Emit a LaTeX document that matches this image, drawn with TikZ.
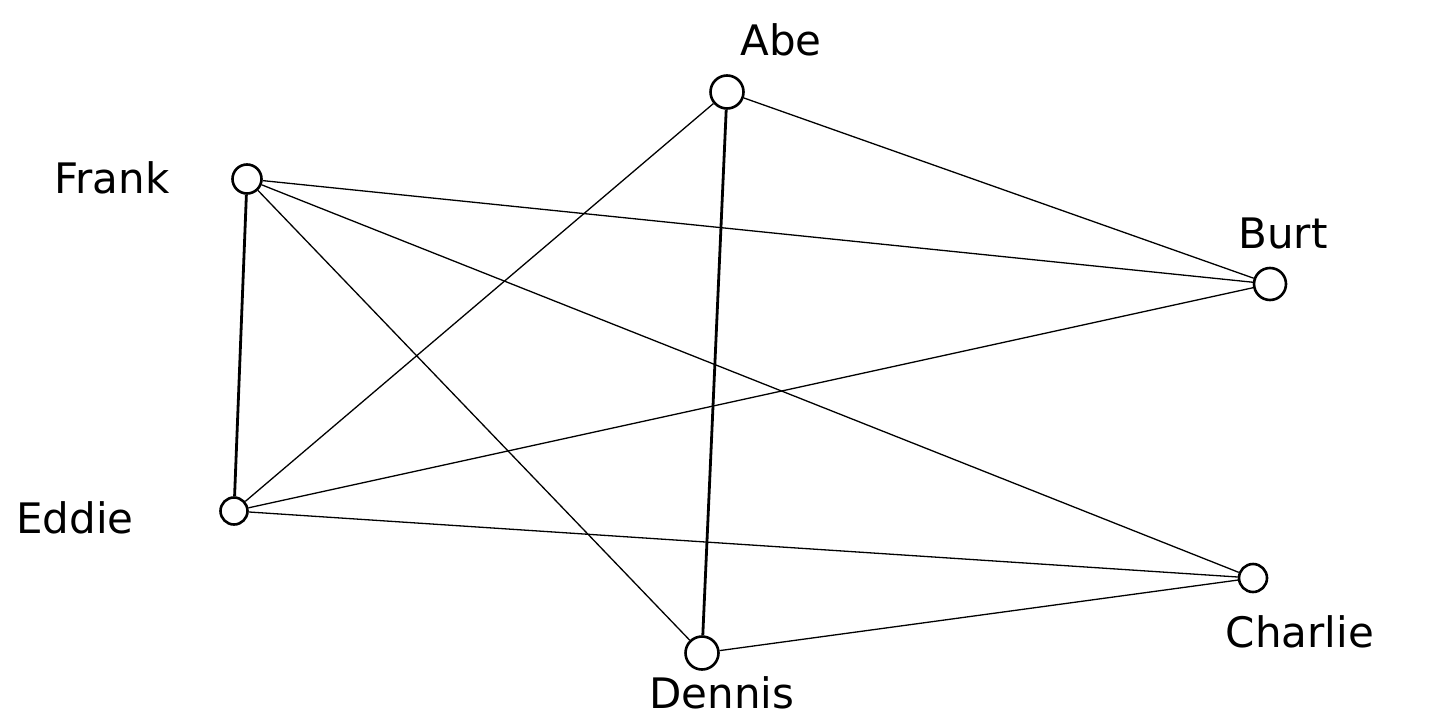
\documentclass[tikz,border=0pt]{standalone}
\usepackage{fontspec}
\setmainfont{DejaVu Sans}
\begin{document}
\begin{tikzpicture}[x=1pt,y=-1pt,
  vert/.style={circle,draw,line width=2.6pt,inner sep=0pt,minimum size=#1},
  vert/.default=29pt,
  lbl/.style={font=\fontsize{42}{46}\selectfont},
  edge/.style={line width=1.3pt},
  thick edge/.style={line width=2.8pt}]
\useasboundingbox (0,0) rectangle (1447,725);
\fill[white] (0,0) rectangle (1447,725);
\node[vert=33pt] (abe) at (727,92) {};
\node[vert] (frank) at (247,179) {};
\node[vert=32pt] (burt) at (1270,284) {};
\node[vert=27pt] (eddie) at (234,511) {};
\node[vert=28pt] (charlie) at (1253,578) {};
\node[vert=33pt] (dennis) at (702,653) {};
\node[lbl] (labe) at (781,40) {Abe};
\node[lbl] (lfrank) at (112,178) {Frank};
\node[lbl] (lburt) at (1283,233) {Burt};
\node[lbl] (leddie) at (75,518) {Eddie};
\node[lbl] (lcharlie) at (1300,632) {Charlie};
\node[lbl] (ldennis) at (722,693) {Dennis};
\draw[edge] (abe) -- (burt);
\draw[edge] (abe) -- (eddie);
\draw[thick edge] (abe) -- (dennis);
\draw[edge] (frank) -- (burt);
\draw[thick edge] (frank) -- (eddie);
\draw[edge] (frank) -- (dennis);
\draw[edge] (frank) -- (charlie);
\draw[edge] (eddie) -- (burt);
\draw[edge] (eddie) -- (charlie);
\draw[edge] (dennis) -- (charlie);
\end{tikzpicture}
\end{document}
